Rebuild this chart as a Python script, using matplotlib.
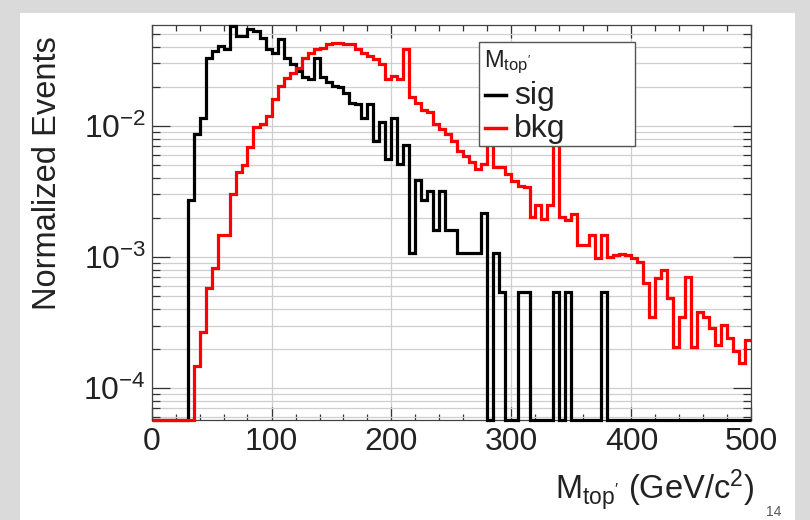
import numpy as np
import matplotlib
matplotlib.use("Agg")
import matplotlib.pyplot as plt
from matplotlib.ticker import FixedLocator, LogLocator, NullFormatter, MultipleLocator
from matplotlib.patches import Rectangle
from matplotlib.lines import Line2D

plt.rcParams['font.family'] = ['Liberation Sans', 'DejaVu Sans']
plt.rcParams['mathtext.fontset'] = 'custom'
plt.rcParams['mathtext.rm'] = 'Liberation Sans'
plt.rcParams['mathtext.it'] = 'Liberation Sans:italic'
plt.rcParams['mathtext.bf'] = 'Liberation Sans:bold'

# ---------------- data ----------------
x_min, x_max, n_bins = 0, 500, 100

sig_vals = [
    0, 0, 0, 0, 0, 0, 2.7e-3, 8.7e-3, 1.16e-2, 3.33e-2,
    3.74e-2, 4.08e-2, 3.85e-2, 5.8e-2, 4.86e-2, 4.86e-2, 5.47e-2, 5.31e-2, 4.72e-2, 3.9e-2,
    3.63e-2, 4.59e-2, 3.33e-2, 2.96e-2, 2.64e-2, 2.35e-2, 2.28e-2, 3.33e-2, 2.35e-2, 2.15e-2,
    2.03e-2, 1.97e-2, 1.80e-2, 1.51e-2, 1.47e-2, 1.16e-2, 1.47e-2, 7.7e-3, 1.07e-2, 5.6e-3,
    1.16e-2, 5.1e-3, 7.1e-3, 1.07e-3, 3.84e-3, 2.7e-3, 3.2e-3, 1.62e-3, 3.2e-3, 1.62e-3,
    1.62e-3, 1.08e-3, 1.08e-3, 1.08e-3, 1.08e-3, 2.16e-3, 0, 1.08e-3, 5.4e-4, 0,
    0, 5.4e-4, 5.4e-4, 0, 0, 0, 0, 5.4e-4, 0, 5.4e-4,
    0, 0, 0, 0, 0, 5.4e-4, 0, 0, 0, 0,
    0, 0, 0, 0, 0, 0, 0, 0, 0, 0,
    0, 0, 0, 0, 0, 0, 0, 0, 0, 0,
]

bkg_vals = [
    0, 0, 0, 0, 0, 0, 0, 1.46e-4, 2.7e-4, 5.8e-4,
    8.2e-4, 1.47e-3, 1.47e-3, 3.0e-3, 4.45e-3, 5.0e-3, 6.9e-3, 9.9e-3, 1.04e-2, 1.2e-2,
    1.6e-2, 2.03e-2, 2.34e-2, 2.56e-2, 2.79e-2, 3.33e-2, 3.63e-2, 3.85e-2, 3.97e-2, 4.2e-2,
    4.33e-2, 4.33e-2, 4.2e-2, 4.2e-2, 3.85e-2, 3.63e-2, 3.43e-2, 3.23e-2, 2.96e-2, 2.28e-2,
    2.41e-2, 2.28e-2, 3.85e-2, 1.65e-2, 1.50e-2, 1.32e-2, 1.28e-2, 1.04e-2, 9.5e-3, 8.7e-3,
    7.7e-3, 6.5e-3, 5.9e-3, 5.3e-3, 4.7e-3, 5.1e-3, 8.0e-3, 4.85e-3, 4.85e-3, 4.3e-3,
    3.8e-3, 3.5e-3, 3.4e-3, 2.02e-3, 2.48e-3, 1.96e-3, 2.48e-3, 8.0e-3, 2.02e-3, 1.9e-3,
    2.14e-3, 1.23e-3, 1.23e-3, 1.47e-3, 9.75e-4, 1.47e-3, 1.0e-3, 1.03e-3, 1.06e-3, 1.03e-3,
    9.75e-4, 9.2e-4, 6.3e-4, 3.5e-4, 6.9e-4, 7.95e-4, 4.83e-4, 2.07e-4, 3.5e-4, 7.07e-4,
    2.07e-4, 3.83e-4, 3.5e-4, 2.86e-4, 2.14e-4, 3.03e-4, 2.4e-4, 1.9e-4, 1.55e-4, 2.33e-4,
]

xtick_vals = [0, 100, 200, 300, 400, 500]
xtick_labels = ["0", "100", "200", "300", "400", "500"]
ytick_vals = [1e-4, 1e-3, 1e-2]
ytick_labels = [r"$10^{-4}$", r"$10^{-3}$", r"$10^{-2}$"]
y_lo, y_hi = 5.7e-5, 5.9e-2

series_names = ["sig", "bkg"]
series_colors = ["black", "#ff0000"]

# ---------------- figure ----------------
W, H = 810, 520
fig = plt.figure(figsize=(W / 100, H / 100), dpi=100)
fig.patch.set_facecolor("white")

border = "#dadada"
fig.add_artist(Rectangle((0, 0), 20 / W, 1, transform=fig.transFigure, color=border, lw=0))
fig.add_artist(Rectangle((795 / W, 0), 15 / W, 1, transform=fig.transFigure, color=border, lw=0))
fig.add_artist(Rectangle((0, 1 - 13 / H), 1, 13 / H, transform=fig.transFigure, color=border, lw=0))

ax = fig.add_axes([151.5 / W, 100 / H, 600 / W, 395 / H])
ax.set_yscale("log")
ax.set_xlim(x_min, x_max)
ax.set_ylim(y_lo, y_hi)

edges = np.linspace(x_min, x_max, n_bins + 1)
for vals, col, z in [(sig_vals, series_colors[0], 3), (bkg_vals, series_colors[1], 4)]:
    v = np.asarray(vals, dtype=float)
    v = np.where(v > 0, v, y_lo)
    ax.stairs(v, edges, color=col, lw=2.3, baseline=None, zorder=z, clip_on=False)

# ticks
ax.xaxis.set_major_locator(FixedLocator(xtick_vals))
ax.set_xticklabels(xtick_labels)
ax.xaxis.set_minor_locator(MultipleLocator(20))
ax.yaxis.set_major_locator(FixedLocator(ytick_vals))
ax.set_yticklabels(ytick_labels)
ax.yaxis.set_minor_locator(LogLocator(base=10, subs=np.arange(2, 10)))
ax.yaxis.set_minor_formatter(NullFormatter())

ax.tick_params(axis="both", which="both", direction="in", top=True, right=True,
               colors="#333333", labelcolor="#222222", width=0.9)
ax.tick_params(axis="x", which="major", length=9.5, labelsize=23, pad=5)
ax.tick_params(axis="x", which="minor", length=4.5)
ax.tick_params(axis="y", which="major", length=13, labelsize=23, pad=4)
ax.tick_params(axis="y", which="minor", length=6)

ax.grid(True, axis="y", which="both", color="#cfcfcf", lw=0.9, zorder=0)
ax.grid(True, axis="x", which="major", color="#cfcfcf", lw=0.9, zorder=0)
ax.set_axisbelow(True)
for s in ax.spines.values():
    s.set_color("#444444")
    s.set_linewidth(0.9)

# axis titles
fig.text(48 / W, 1 - 173 / H, "Normalized Events", rotation=90, ha="center", va="center",
         fontsize=23.5, color="#222222")
fig.text(754 / W, 1 - 500 / H, r"M$_{\rm top'}$ (GeV/c$^{2}$)", ha="right", va="baseline",
         fontsize=23.5, color="#222222")

# legend (ROOT style)
lx0, lx1, ly0, ly1 = 479, 635, 42, 146
fig.add_artist(Rectangle((lx0 / W, 1 - ly1 / H), (lx1 - lx0) / W, (ly1 - ly0) / H,
                         transform=fig.transFigure, facecolor="white", edgecolor="#555555",
                         lw=1.0, zorder=10))
fig.text(484 / W, 1 - 67 / H, r"M$_{\rm top'}$", ha="left", va="baseline", fontsize=17,
         color="#222222", zorder=11)
legend_y = [95, 128]
for name, col, yy in zip(series_names, series_colors, legend_y):
    fig.add_artist(Line2D([485 / W, 506 / W], [1 - yy / H, 1 - yy / H], transform=fig.transFigure,
                          color=col, lw=2.5, zorder=11))
    fig.text(514 / W, 1 - (yy + 9) / H, name, ha="left", va="baseline", fontsize=23,
             color="#222222", zorder=11)

# page number at the bottom edge
fig.text(774 / W, 1 - 505 / H, "14", ha="center", va="top", fontsize=10, color="#555555")

fig.savefig("out.png", dpi=100, facecolor=fig.get_facecolor())
